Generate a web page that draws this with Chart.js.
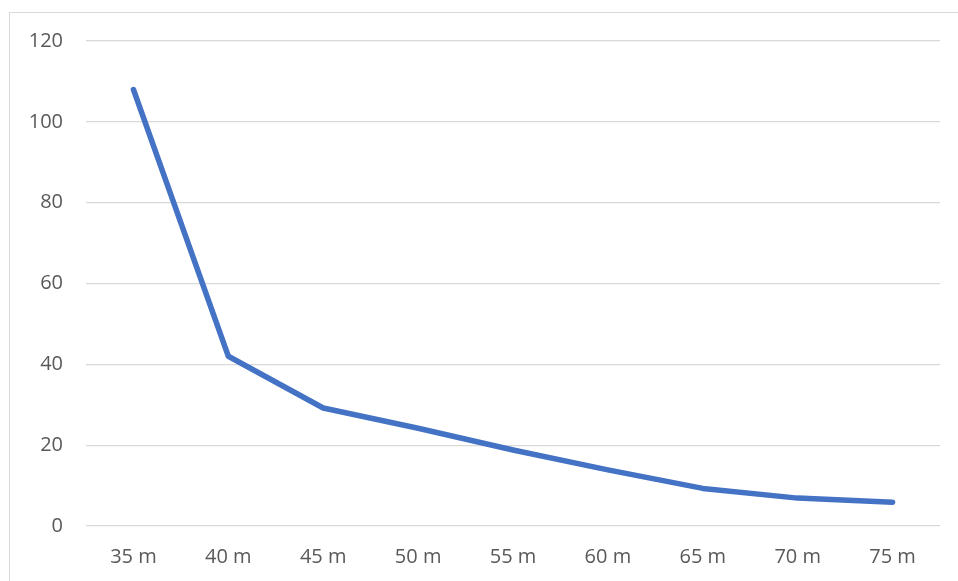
<!DOCTYPE html>
<html>
<head>
<meta charset="utf-8">
<script src="https://cdn.jsdelivr.net/npm/chart.js@4"></script>
<style>
    html, body { margin: 0; padding: 0; background: #fff; overflow: hidden; }
    #wrap { position: relative; width: 958px; height: 581px; }
    #frame {
        position: absolute; left: 9px; top: 12px; width: 1000px; height: 600px;
        border: 1px solid #d9d9d9; box-sizing: border-box;
    }
    canvas { position: absolute; left: 0; top: 0; }
</style>
</head>
<body>
<div id="wrap">
    <div id="frame"></div>
    <canvas id="chart" width="958" height="581"></canvas>
</div>
<script>
// Данные графика
const categories = ['35 m', '40 m', '45 m', '50 m', '55 m', '60 m', '65 m', '70 m', '75 m'];
const values = [108, 42, 29.2, 24.2, 18.8, 13.9, 9.3, 6.9, 5.9];
const yTicks = [0, 20, 40, 60, 80, 100, 120];

const tickFont = { family: '"Open Sans", "Noto Sans", sans-serif', size: 20 };

new Chart(document.getElementById('chart'), {
    type: 'line',
    data: {
        labels: categories,
        datasets: [{
            data: values,
            borderColor: '#4472C4',
            backgroundColor: '#4472C4',
            borderWidth: 5.5,
            borderCapStyle: 'round',
            borderJoinStyle: 'round',
            pointRadius: 0,
            tension: 0,
        }],
    },
    options: {
        responsive: false,
        animation: false,
        layout: { padding: { top: 41, right: 18, bottom: 0, left: 0 } },
        plugins: {
            legend: { display: false },
            tooltip: { enabled: false },
        },
        scales: {
            x: {
                offset: true,
                grid: { display: false, drawTicks: false },
                border: { display: false },
                ticks: { color: '#595959', font: tickFont, padding: 19, maxRotation: 0 },
                afterFit: scale => { scale.height = 55; },
            },
            y: {
                min: yTicks[0],
                max: yTicks[yTicks.length - 1],
                afterBuildTicks: scale => { scale.ticks = yTicks.map(v => ({ value: v })); },
                grid: { color: '#d9d9d9', lineWidth: 1.3, drawTicks: false },
                border: { display: false },
                ticks: { color: '#595959', font: tickFont, padding: 23 },
                afterFit: scale => { scale.width = 86; },
            },
        },
    },
});
</script>
</body>
</html>
